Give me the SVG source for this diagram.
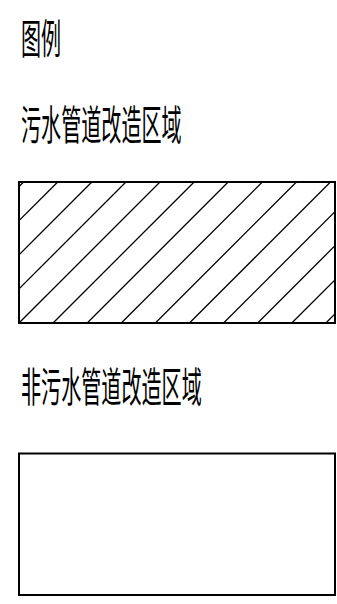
<svg xmlns="http://www.w3.org/2000/svg" width="337" height="604" viewBox="0 0 337 604">
<style>
.t{font-family:"Noto Sans CJK SC","Noto Sans",sans-serif;font-size:41px;font-weight:400;fill:#000}
.box{fill:#fff;stroke:#000;stroke-width:2}
.h{stroke:#000;stroke-width:1.3}
</style>
<defs>
<clipPath id="c1"><rect x="19" y="182" width="316" height="141"/></clipPath>
</defs>
<rect width="337" height="604" fill="#fff"/>
<g id="title"><text class="t" transform="translate(21,54) scale(0.49,1)">图例</text></g>
<g id="label1"><text class="t" transform="translate(21,140) scale(0.49,1)">污水管道改造区域</text></g>
<g id="legend1">
<rect class="box" x="19" y="182" width="316" height="141"/>
<g clip-path="url(#c1)" class="h">
<line x1="-117.4" y1="323" x2="23.6" y2="182"/>
<line x1="-83.3" y1="323" x2="57.7" y2="182"/>
<line x1="-49.2" y1="323" x2="91.8" y2="182"/>
<line x1="-15.1" y1="323" x2="125.9" y2="182"/>
<line x1="19" y1="323" x2="160" y2="182"/>
<line x1="53.1" y1="323" x2="194.1" y2="182"/>
<line x1="87.2" y1="323" x2="228.2" y2="182"/>
<line x1="121.3" y1="323" x2="262.3" y2="182"/>
<line x1="155.4" y1="323" x2="296.4" y2="182"/>
<line x1="189.5" y1="323" x2="330.5" y2="182"/>
<line x1="223.6" y1="323" x2="364.6" y2="182"/>
<line x1="257.7" y1="323" x2="398.7" y2="182"/>
<line x1="291.8" y1="323" x2="432.8" y2="182"/>
<line x1="325.9" y1="323" x2="466.9" y2="182"/>
</g>
<rect x="19" y="182" width="316" height="141" fill="none" stroke="#000" stroke-width="2"/>
</g>
<g id="label2"><text class="t" transform="translate(21,402) scale(0.49,1)">非污水管道改造区域</text></g>
<g id="legend2"><rect class="box" x="19" y="453.5" width="316" height="141.5"/></g>
</svg>
